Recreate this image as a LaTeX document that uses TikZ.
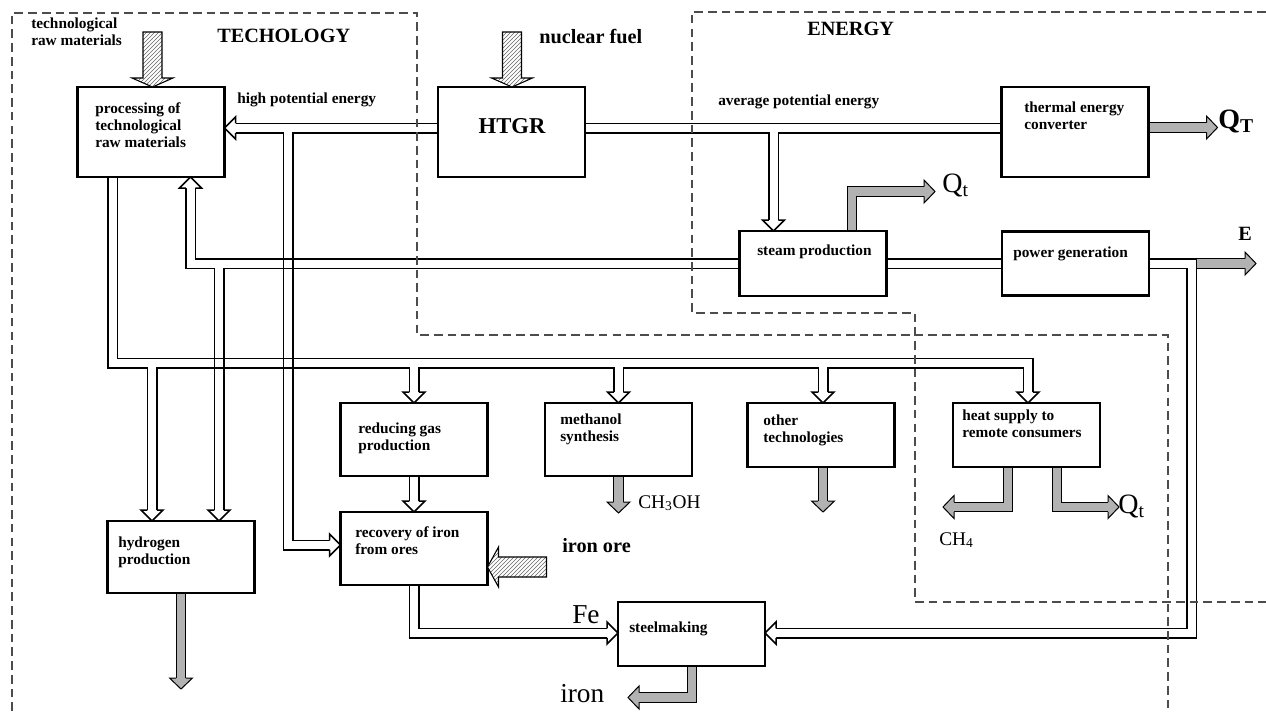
\documentclass[tikz,border=0pt]{standalone}
\usepackage{fontspec}
\setmainfont{Liberation Serif}
\usetikzlibrary{calc,patterns}
\pgfdeclarelayer{back}
\pgfsetlayers{back,main}
\begin{document}
\begin{tikzpicture}[x=0.75pt,y=-0.75pt,
  box/.style={draw, line width=1.6pt, fill=white, minimum width=110.25pt, inner sep=0pt, outer sep=0pt},
  pipe/.style={draw=black, line width=8.25pt, line join=miter, postaction={draw=white, line width=6pt, line join=miter}},
  gpipe/.style={draw=black, line width=7.9pt, line join=miter, postaction={draw=gray!60, line width=6.4pt, line join=miter}},
  hatch/.style={draw, line width=0.8pt, line join=miter, preaction={fill=white}, preaction={pattern=north east lines, pattern color=black!60}},
  zone/.style={black!70, line width=1.1pt, dash pattern=on 6.5pt off 3.8pt},
  sm/.style={font=\bfseries\fontsize{11.5}{12.75}\selectfont, anchor=base west, inner sep=0pt},
  big/.style={font=\bfseries\fontsize{15.2}{18}\selectfont, anchor=base west, inner sep=0pt},
  qq/.style={font=\fontsize{21}{24}\selectfont, anchor=base west, inner sep=0pt},
  chem/.style={font=\fontsize{14.5}{17}\selectfont, anchor=base west, inner sep=0pt},
  plain/.style={font=\fontsize{20.5}{24}\selectfont, anchor=base west, inner sep=0pt},
  hhead/.pic={\draw[line width=1.125pt, fill=white, line join=miter] (-4.75,-11) -- (-11,-11) -- (0,0) -- (11,-11) -- (4.75,-11);},
  ghead/.pic={\draw[line width=0.75pt, fill=gray!60, line join=miter] (-4.77,-11) -- (-11.5,-11) -- (0,0) -- (11.5,-11) -- (4.77,-11);}
]
\useasboundingbox (0,0) rectangle (1266,711);

% ---------------- boxes
\node[box, minimum height=67.5pt] (proc) at (151,132) {};
\node[box, minimum height=67.5pt] (htgr) at (511.5,132) {};
\node[box, minimum height=67.5pt] (tec) at (1075,132) {};
\node[box, minimum height=48.75pt] (steam) at (813,263.5) {};
\node[box, minimum height=48pt] (power) at (1075.5,263.5) {};
\node[box, minimum height=54.75pt] (reduce) at (414,439.5) {};
\node[box, minimum height=54.75pt] (meth) at (618.5,439.5) {};
\node[box, minimum height=48pt] (other) at (821,435) {};
\node[box, minimum height=48pt] (heat) at (1026.5,435) {};
\node[box, minimum height=54pt] (hydro) at (181,557) {};
\node[box, minimum height=54.75pt] (recov) at (414,548.5) {};
\node[box, minimum height=48pt] (steel) at (691.5,634) {};

% ---------------- coordinates
\coordinate (hl) at ($(htgr.west)+(0,-4)$);
\coordinate (hr) at ($(htgr.east)+(0,-4)$);
\coordinate (jA) at ($(hl)+(-150,0)$);
\coordinate (jB) at ($(hr)+(188.5,0)$);
\coordinate (tProcE) at ($(proc.east)+(0,-4)$);
\coordinate (tRecovW) at ($(recov.west)+(0,-3.5)$);
\coordinate (tSteamN) at ($(steam.north)+(-39.5,0)$);
\coordinate (tProcS) at ($(proc.south)+(39.5,0)$);
\coordinate (tHydN1) at ($(hydro.north)+(-29,0)$);
\coordinate (tHydN2) at ($(hydro.north)+(38,0)$);
\coordinate (tRedN) at (reduce.north);
\coordinate (tMethN) at (meth.north);
\coordinate (tOthN) at ($(other.north)+(2,0)$);
\coordinate (tHeatN) at ($(heat.north)+(1.5,0)$);
\coordinate (tRecovN) at (recov.north);
\coordinate (tSteelW) at ($(steel.west)+(0,-1)$);
\coordinate (tSteelE) at ($(steel.east)+(0,-1)$);
\coordinate (pr0) at ($(proc.south)+(-38.5,0)$);
\coordinate (pr1) at ($(pr0)+(0,186)$);
\coordinate (pw1) at ($(power.east)+(42.5,0)$);
\coordinate (x1) at (jA |- steam.west);
\coordinate (x2) at (tHydN2 |- pr1);
\coordinate (x3) at (jA |- pr1);
% gray outputs
\coordinate (qT) at ($(tec.east)+(69,-4.5)$);
\coordinate (s0) at ($(steam.north)+(39,0)$);
\coordinate (qt1) at (935,191.5);
\coordinate (e0) at ($(pw1)+(5,0)$);
\coordinate (eT) at ($(pw1)+(64.5,0)$);
\coordinate (cm) at ($(meth.south)+(0,37)$);
\coordinate (o0) at ($(other.south)+(2,0)$);
\coordinate (co) at ($(o0)+(0,45)$);
\coordinate (hL0) at ($(heat.south)+(-18.5,0)$);
\coordinate (hL) at (943,507);
\coordinate (hR0) at ($(heat.south)+(30.5,0)$);
\coordinate (hR) at (1119,507);
\coordinate (hy) at ($(hydro.south)+(0,96)$);
\coordinate (st0) at ($(steel.south)+(0.5,0)$);
\coordinate (stT) at (628,697.5);

\begin{pgfonlayer}{back}
\fill[white] (0,0) rectangle (1266,711);
% hollow pipes
\draw[pipe]
  (hl) -- ($(tProcE)+(11,0)$)
  (jA) -- (jA |- tRecovW) -- ($(tRecovW)+(-11,0)$)
  (hr) -- (tec.west |- hr)
  (jB) -- ($(tSteamN)+(0,-11)$)
  (steam.west) -- (tProcS |- steam.west) -- ($(tProcS)+(0,11)$)
  (tHydN2 |- steam.west) -- ($(tHydN2)+(0,-11)$)
  (pr0) -- (pr1) -- (tHeatN |- pr1) -- ($(tHeatN)+(0,-11)$)
  (tHydN1 |- pr1) -- ($(tHydN1)+(0,-11)$)
  (tRedN |- pr1) -- ($(tRedN)+(0,-11)$)
  (tMethN |- pr1) -- ($(tMethN)+(0,-11)$)
  (tOthN |- pr1) -- ($(tOthN)+(0,-11)$)
  (reduce.south) -- ($(tRecovN)+(0,-11)$)
  (recov.south) -- (recov.south |- tSteelW) -- ($(tSteelW)+(-11,0)$)
  (steam.east) -- (power.west)
  (power.east) -- (pw1) -- (pw1 |- tSteelE) -- ($(tSteelE)+(11,0)$);
% crossings
\foreach \c in {x1,x2,x3}
  \draw[line width=1.125pt] ($(\c)+(-4.75,-4.75)$) rectangle ($(\c)+(4.75,4.75)$);
% gray outputs
\draw[gpipe] ($(tec.east)+(0,-4.5)$) -- ($(qT)+(-11,0)$);
\draw[gpipe] (s0) -- (s0 |- qt1) -- ($(qt1)+(-11,0)$);
\draw[gpipe] (e0) -- ($(eT)+(-11,0)$);
\draw[gpipe] (meth.south) -- ($(cm)+(0,-11)$);
\draw[gpipe] (o0) -- ($(co)+(0,-11)$);
\draw[gpipe] (hL0) -- (hL0 |- hL) -- ($(hL)+(11,0)$);
\draw[gpipe] (hR0) -- (hR0 |- hR) -- ($(hR)+(-11,0)$);
\draw[gpipe] (hydro.south) -- ($(hy)+(0,-11)$);
\draw[gpipe] (st0) -- (st0 |- stT) -- ($(stT)+(11,0)$);
% dashed zones
\draw[zone] (12,711) -- (12,13) -- (417,13) -- (417,335) -- (1168,335) -- (1168,711);
\draw[zone] (1266,12) -- (692,12) -- (692,313) -- (915,313) -- (915,602) -- (1266,602);
\end{pgfonlayer}

% hollow heads
\pic[rotate=-90] at (tProcE) {hhead};
\pic[rotate=90] at (tRecovW) {hhead};
\pic at (tSteamN) {hhead};
\pic[rotate=180] at (tProcS) {hhead};
\pic at (tHydN1) {hhead};
\pic at (tHydN2) {hhead};
\pic at (tRedN) {hhead};
\pic at (tMethN) {hhead};
\pic at (tOthN) {hhead};
\pic at (tHeatN) {hhead};
\pic at (tRecovN) {hhead};
\pic[rotate=90] at (tSteelW) {hhead};
\pic[rotate=-90] at (tSteelE) {hhead};
% gray heads
\pic[rotate=90] at (qT) {ghead};
\pic[rotate=90] at (qt1) {ghead};
\pic[rotate=90] at (eT) {ghead};
\pic at (cm) {ghead};
\pic at (co) {ghead};
\pic[rotate=-90] at (hL) {ghead};
\pic[rotate=90] at (hR) {ghead};
\pic at (hy) {ghead};
\pic[rotate=-90] at (stT) {ghead};

% hatched inputs
\draw[hatch] ($(proc.north)+(1.5,0)$) -- ++(-20.5,-9) -- ++(11,0) -- ++(0,-46) -- ++(19,0) -- ++(0,46) -- ++(11,0) -- cycle;
\draw[hatch] ($(htgr.north)+(0.5,0)$) -- ++(-20.5,-9) -- ++(11,0) -- ++(0,-46) -- ++(19,0) -- ++(0,46) -- ++(11,0) -- cycle;
\draw[hatch] ($(recov.east)+(0,18.5)$) -- ++(11,-20) -- ++(0,10) -- ++(48,0) -- ++(0,20) -- ++(-48,0) -- ++(0,10) -- cycle;

% texts
\node[sm] (tL1) at (31,28) {\vtop{\hbox{technological}\hbox{raw materials}}};
\node[big] (tTech) at (217,42) {TECHOLOGY};
\node[big] (tNuc) at (539,43) {nuclear fuel};
\node[big] (tEn) at (807,35) {ENERGY};
\node[sm] (tHigh) at (237,103) {high potential energy};
\node[sm] (tAvg) at (718,105) {average potential energy};
\node[sm] (tProc) at (95,113) {\vtop{\hbox{processing of}\hbox{technological}\hbox{raw materials}}};
\node[font=\bfseries\fontsize{17}{20}\selectfont, anchor=base, inner sep=0pt] (tHTGR) at (512,133) {HTGR};
\node[sm] (tTec) at (1024,112) {\vtop{\hbox{thermal energy}\hbox{converter}}};
\node[sm] (tSteam) at (757,255) {steam production};
\node[sm] (tPower) at (1013,257) {power generation};
\node[sm] (tRed) at (358,433) {\vtop{\hbox{reducing gas}\hbox{production}}};
\node[sm] (tMeth) at (560,424) {\vtop{\hbox{methanol}\hbox{synthesis}}};
\node[sm] (tOth) at (763,425) {\vtop{\hbox{other}\hbox{technologies}}};
\node[sm] (tHeat) at (962,420) {\vtop{\hbox{heat supply to}\hbox{remote consumers}}};
\node[sm] (tHyd) at (118,547) {\vtop{\hbox{hydrogen}\hbox{production}}};
\node[sm] (tRec) at (355,537) {\vtop{\hbox{recovery of iron}\hbox{from ores}}};
\node[sm] (tSteel) at (629,632) {steelmaking};
\node[big] (tOre) at (562,552) {iron ore};
\node[big] (tE) at (1238,240) {E};
\node[qq, font=\bfseries\fontsize{21}{24}\selectfont] (tQT) at (1218,128) {Q\textsubscript{T}};
\node[qq] (tQt1) at (942,192) {Q\textsubscript{t}};
\node[qq] (tQt2) at (1118,513) {Q\textsubscript{t}};
\node[chem] (tCHO) at (638,508) {CH\textsubscript{3}OH};
\node[chem] (tCH4) at (939,545) {CH\textsubscript{4}};
\node[plain] (tFe) at (572,623) {Fe};
\node[plain] (tIron) at (560,702) {iron};
\end{tikzpicture}
\end{document}
